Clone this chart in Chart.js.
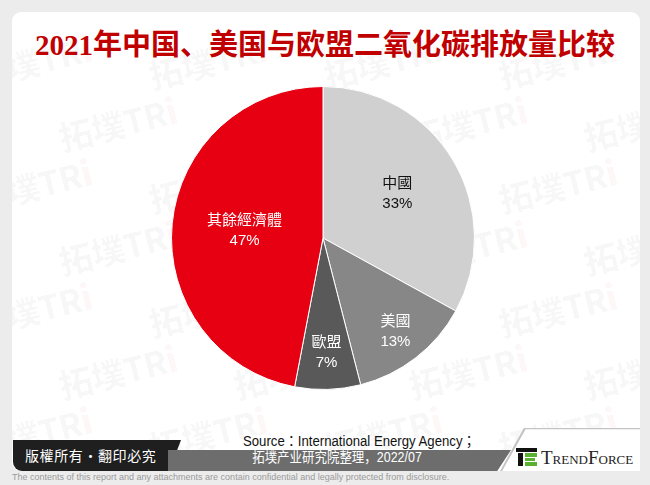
<!DOCTYPE html>
<html>
<head>
<meta charset="utf-8">
<script src="https://cdn.jsdelivr.net/npm/chart.js@4/dist/chart.umd.min.js"></script>
<style>
  html, body { margin: 0; padding: 0; }
  body { width: 650px; height: 485px; background: #ececec; position: relative; overflow: hidden; font-family: "Liberation Sans", Arial, "Noto Sans CJK TC", sans-serif; }
  #card { position: absolute; left: 12px; top: 12px; width: 628px; height: 459px; background: #fff; border-radius: 9px 9px 0 9px; overflow: hidden; }
  #wm { position: absolute; left: 0; top: 0; width: 100%; height: 100%; }
  .wm { position: absolute; transform: rotate(-14deg); white-space: nowrap; color: rgba(0,0,0,0.028); font-family: "Noto Sans CJK SC", sans-serif; }
  .wm b { font-size: 34px; font-weight: 900; letter-spacing: -1px; }
  .wm b i { font-style: normal; color: rgba(230,0,18,0.05); }
  .wm span { display: block; font-size: 9px; margin-top: -8px; margin-left: 6px; font-family: "Liberation Sans", sans-serif; }
  #title { position: absolute; left: 0; width: 650px; text-align: center; top: 21px; font-family: "Liberation Serif", "DejaVu Serif", "Noto Sans CJK SC", serif; font-weight: bold; font-size: 29px; color: #c00000; white-space: nowrap; }
  #wrap { position: absolute; left: 163px; top: 78px; width: 320px; height: 320px; }
  #dark { position: absolute; left: 13px; top: 440px; width: 168px; height: 31px; background: #1f1f1f; clip-path: polygon(0 0, 100% 0, 93% 100%, 0 100%); border-radius: 0 0 0 9px; }
  #dark div { color: #fff; font-size: 14px; font-family: "Noto Sans CJK TC", sans-serif; position: absolute; left: 12px; top: 5px; letter-spacing: 0.6px; white-space: nowrap; }
  #gray { position: absolute; left: 168px; top: 450px; width: 343px; height: 21px; background: #6d6d6d; clip-path: polygon(0 0, 100% 0, 96% 100%, 0 100%); }
  #src1 { position: absolute; left: 237px; width: 200px; top: 430px; text-align: center; font-size: 14px; color: #111; white-space: nowrap; transform: scaleX(0.94); }
  #src2 { position: absolute; left: 237px; width: 200px; top: 446px; text-align: center; font-size: 14px; color: #fff; white-space: nowrap; transform: scaleX(0.89); font-family: "Liberation Sans", "Noto Sans CJK SC", sans-serif; }
  #logoBox { position: absolute; left: 500px; top: 428px; width: 140px; height: 43px; background: #fff; clip-path: polygon(17% 0, 100% 0, 100% 100%, 0 100%); }
  #logoLine { position: absolute; left: 500px; top: 428px; width: 140px; height: 43px; background: #c4c4c4; clip-path: polygon(17% 0, 100% 0, 100% 3%, 18.3% 3%, 1.5% 100%, 0 100%); }
  #logo { position: absolute; left: 516px; top: 448px; }
  #tf { position: absolute; left: 541px; top: 447px; font-family: "Liberation Serif", serif; font-size: 19px; font-variant: small-caps; color: #222; }
  #note { position: absolute; left: 12px; top: 472px; font-size: 9px; color: #9a9a9a; white-space: nowrap; }
</style>
</head>
<body>
<div id="card"><div id="wm"></div></div>
<div id="title">2021年中国、美国与欧盟二氧化碳排放量比较</div>
<div id="wrap"><canvas id="pie"></canvas></div>
<div id="dark"><div>版權所有‧翻印必究</div></div>
<div id="gray"></div>
<div id="src1">Source：International Energy Agency；</div>
<div id="src2">拓墣产业研究院整理，2022/07</div>
<div id="logoBox"></div>
<div id="logoLine"></div>
<svg id="logo" width="21" height="18" viewBox="0 0 21 18">
  <rect x="0" y="0" width="21" height="4" fill="#111"/>
  <rect x="2" y="5" width="5" height="13" fill="#111"/>
  <rect x="9" y="5" width="12" height="4" fill="#5ab031"/>
  <rect x="9" y="10" width="10" height="3" fill="#5ab031"/>
  <rect x="9" y="14" width="12" height="4" fill="#5ab031"/>
</svg>
<div id="tf">TrendForce</div>
<div id="note">The contents of this report and any attachments are contain confidential and legally protected from disclosure.</div>
<script>
const labels = ['中國', '美國', '歐盟', '其餘經濟體'];
const shares = [33, 13, 7, 47];
const sliceColors = ['#d0d0d0', '#878787', '#595959', '#e60012'];
const labelColors = ['#111111', '#ffffff', '#ffffff', '#ffffff'];

// faint watermark tiles
const wm = document.getElementById('wm');
for (let row = 0; row < 8; row++) {
    for (let col = 0; col < 5; col++) {
        const d = document.createElement('div');
        d.className = 'wm';
        d.style.left = (col * 175 - 40 + (row % 2) * 85) + 'px';
        d.style.top = (row * 62 + 20) + 'px';
        d.innerHTML = '<b>拓墣TR<i>i</i></b><span>TOPOLOGY RESEARCH INSTITUTE</span>';
        wm.appendChild(d);
    }
}

// how far out along the radius each label sits
const labelRadius = [0.57, 0.78, 0.76, 0.52];

const sliceLabels = {
    id: 'sliceLabels',
    afterDatasetsDraw(chart) {
        const ctx = chart.ctx;
        const meta = chart.getDatasetMeta(0);
        ctx.save();
        ctx.textAlign = 'center';
        ctx.textBaseline = 'middle';
        ctx.font = '15px "Liberation Sans", "Noto Sans CJK TC", sans-serif';
        meta.data.forEach((arc, i) => {
            const mid = (arc.startAngle + arc.endAngle) / 2;
            const r = arc.outerRadius * labelRadius[i];
            const x = arc.x + Math.cos(mid) * r;
            const y = arc.y + Math.sin(mid) * r;
            ctx.fillStyle = labelColors[i];
            ctx.fillText(labels[i], x, y - 10);
            ctx.fillText(shares[i] + '%', x, y + 10);
        });
        ctx.restore();
    }
};

new Chart(document.getElementById('pie'), {
    type: 'pie',
    data: {
        labels: labels,
        datasets: [{
            data: shares,
            backgroundColor: sliceColors,
            borderColor: '#ffffff',
            borderWidth: 1
        }]
    },
    options: {
        responsive: true,
        maintainAspectRatio: false,
        animation: false,
        layout: { padding: 8 },
        plugins: {
            legend: { display: false },
            tooltip: { enabled: false }
        }
    },
    plugins: [sliceLabels]
});
</script>
</body>
</html>
